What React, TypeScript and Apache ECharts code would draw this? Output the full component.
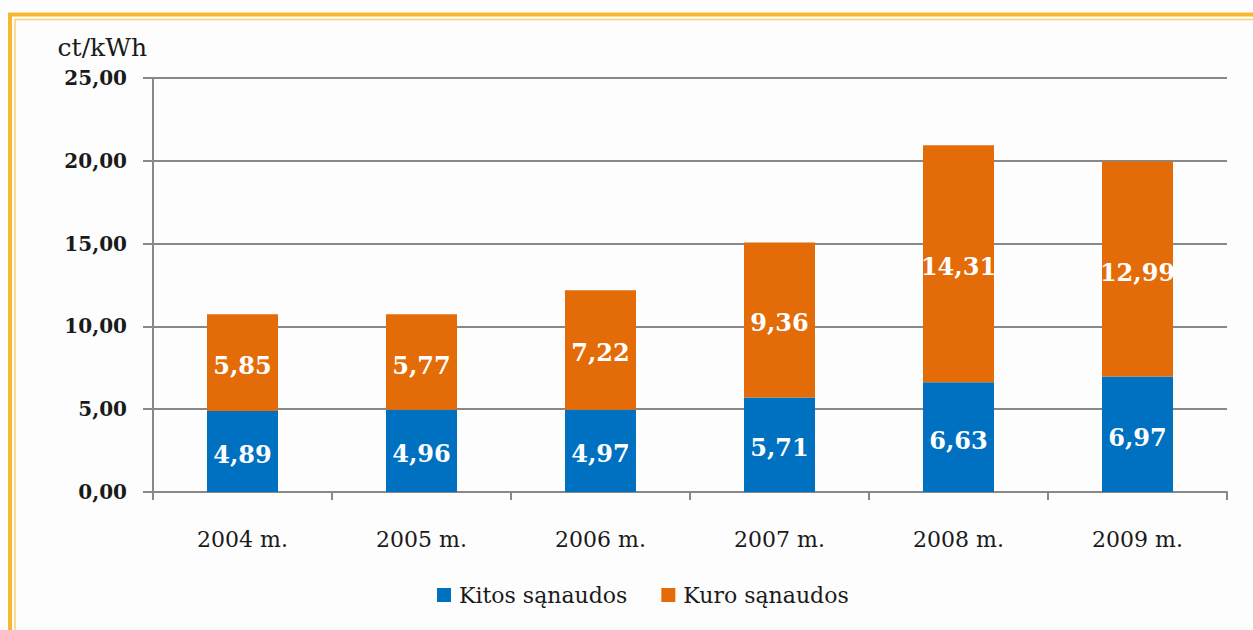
import React, { useEffect, useRef } from "react";
import * as echarts from "echarts";

const categories = ["2004 m.", "2005 m.", "2006 m.", "2007 m.", "2008 m.", "2009 m."];
const kitos = [4.89, 4.96, 4.97, 5.71, 6.63, 6.97];
const kuro = [5.85, 5.77, 7.22, 9.36, 14.31, 12.99];
const seriesNames = ["Kitos sąnaudos", "Kuro sąnaudos"];
const unitName = "ct/kWh";

const FONT = "'DejaVu Serif', serif";
const TXT = "#1a1a1a";
const fmt = (v: number) => v.toFixed(2).replace(".", ",");

export default function App() {
  const ref = useRef<HTMLDivElement>(null);
  useEffect(() => {
    if (!ref.current) return;
    const chart = echarts.init(ref.current, undefined, { renderer: "svg" });
    const label = {
      show: true,
      position: "inside",
      offset: [0, 3],
      color: "#ffffff",
      fontFamily: FONT,
      fontWeight: "bold",
      fontSize: 24,
      formatter: (p: any) => fmt(p.value),
    };
    chart.setOption({
      animation: false,
      backgroundColor: "#fdfdfd",
      textStyle: { fontFamily: FONT },
      graphic: [
        {
          type: "rect",
          shape: { x: 10, y: 14.5, width: 1300, height: 700 },
          style: { fill: "none", stroke: "#f8b730", lineWidth: 4 },
          silent: true,
        },
        {
          type: "rect",
          shape: { x: 15, y: 19.5, width: 1300, height: 700 },
          style: { fill: "none", stroke: "#fbcf72", lineWidth: 1.5 },
          silent: true,
        },
      ],
      grid: { left: 153, right: 26, top: 78, bottom: 138 },
      legend: {
        data: seriesNames,
        top: 579,
        left: 432,
        icon: "rect",
        itemWidth: 14,
        itemHeight: 14,
        itemGap: 34,
        textStyle: { fontFamily: FONT, fontSize: 22, color: TXT, padding: [0, 0, 0, 3] },
      },
      xAxis: {
        type: "category",
        data: categories,
        axisLine: { lineStyle: { color: "#888", width: 2 } },
        axisTick: { show: true, length: 8, lineStyle: { color: "#888", width: 2 } },
        axisLabel: { margin: 36, fontSize: 22, color: TXT, fontFamily: FONT },
      },
      yAxis: {
        type: "value",
        min: 0,
        max: 25,
        interval: 5,
        name: unitName,
        nameLocation: "end",
        nameGap: 31,
        nameTextStyle: {
          align: "right",
          verticalAlign: "middle",
          fontSize: 25,
          color: TXT,
          fontFamily: FONT,
          padding: [0, 6, 0, 0],
        },
        axisLine: { show: true, lineStyle: { color: "#888", width: 2 } },
        axisTick: { show: true, length: 10, lineStyle: { color: "#888", width: 2 } },
        splitLine: { lineStyle: { color: "#888", width: 2 } },
        axisLabel: {
          margin: 26,
          fontSize: 20,
          fontWeight: "bold",
          color: TXT,
          fontFamily: FONT,
          formatter: (v: number) => fmt(v),
        },
      },
      series: [
        {
          name: seriesNames[0],
          type: "bar",
          stack: "total",
          barWidth: 71,
          data: kitos,
          itemStyle: { color: "#0070c0" },
          label,
        },
        {
          name: seriesNames[1],
          type: "bar",
          stack: "total",
          barWidth: 71,
          data: kuro,
          itemStyle: { color: "#e36c09" },
          label,
        },
      ],
    });
    return () => chart.dispose();
  }, []);
  return (
    <div
      ref={ref}
      style={{ position: "fixed", left: 0, top: 0, width: 1253, height: 630 }}
    />
  );
}
